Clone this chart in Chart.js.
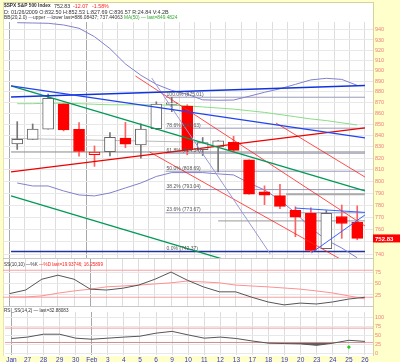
<!DOCTYPE html>
<html>
<head>
<meta charset="utf-8">
<title>$SPX daily</title>
<script src="https://cdn.jsdelivr.net/npm/chart.js@4.4.1/dist/chart.umd.min.js"></script>
<style>
  html, body { margin: 0; padding: 0; }
  body { width: 400px; height: 362px; background: #ffffcc; position: relative; overflow: hidden;
         font-family: Arial, "Liberation Sans", sans-serif; }
  #frame { position: absolute; left: 3px; top: 2px; width: 369px; height: 353px; background: #fff;
           border-top: 1px solid #d6d29a; border-right: 1px solid #d6d29a; border-left: 1px solid #e8e4b0; }
  .pane { position: absolute; left: 0; width: 400px; }
  .sep { position: absolute; left: 3px; width: 370px; height: 0; border-top: 1px solid #c8c8c8; }
  .txt { position: absolute; left: 6px; font-size: 5.4px; line-height: 6px; white-space: nowrap; color: #333; z-index: 5; }
  .red { color: #ff2020; }
  .grn { color: #33aa33; }
  .pur { color: #7777cc; }
</style>
</head>
<body>
<div id="frame"></div>
<div class="pane" style="top:0;height:258px"><canvas id="mainChart"></canvas></div>
<div class="pane" style="top:258px;height:49px"><canvas id="stochChart"></canvas></div>
<div class="pane" style="top:307px;height:55px"><canvas id="rsiChart"></canvas></div>
<div class="sep" style="top:258px"></div>
<div class="sep" style="top:306px"></div>

<div class="txt" style="top:3px;left:4px;font-size:4.8px"><b>$SPX S&amp;P 500 Index</b></div>
<div class="txt" style="top:3px;left:54px;font-size:5.3px">752.83</div>
<div class="txt red" style="top:3px;left:73px;font-size:5.3px">-12.07</div>
<div class="txt red" style="top:3px;left:92px;font-size:5.3px">-1.58%</div>
<div class="txt" style="top:9px;left:4px">D: 01/26/2009 O:832.50 H:852.53 L:827.69 C:836.57 R:24.84 V:4.2B</div>
<div class="txt" style="top:15px;left:4px;font-size:4.8px">BB(20,2.0) <span class="pur">&mdash;</span>upper <span class="pur">&mdash;</span>lower last=886.08437; 737.44063 <span class="grn">MA(50) &mdash; last=849.4824</span></div>
<div class="txt" style="top:262px;left:4px;font-size:4.6px">SS(10,10) &mdash;%K <span class="red">&mdash;%D last=19.93746; 16.25899</span></div>
<div class="txt" style="top:308px;left:4px;font-size:4.6px">RSI_SS(14,2) &mdash; last=32.88083</div>

<script>
document.addEventListener('DOMContentLoaded', () => {
  // --- Data ---
  const dateLabels = ['Jan', '27', '28', '29', '30', 'Feb', '3', '4', '5', '6', '9', '10', '11', '12', '13', '17', '18', '19', '20', '23', '24', '25', '26'];
  const monthStarts = [0, 5];

  const opens  = [832.50, 836.57, 845.73, 868.89, 845.69, 823.09, 825.69, 837.77, 831.75, 846.09, 868.24, 866.87, 827.41, 829.91, 833.95, 818.61, 791.06, 787.91, 775.87, 773.25, 744.69, 770.64, 765.76];
  const highs  = [852.53, 850.45, 877.86, 868.89, 851.66, 830.78, 842.60, 851.85, 850.55, 870.75, 875.01, 868.05, 838.22, 835.48, 839.43, 818.61, 796.17, 797.58, 778.69, 777.85, 775.49, 780.12, 779.42];
  const lows   = [827.69, 836.57, 845.73, 844.15, 821.67, 812.87, 821.98, 829.18, 819.91, 845.42, 861.65, 822.99, 822.30, 808.06, 825.21, 789.17, 780.43, 777.03, 754.25, 742.37, 744.69, 752.89, 751.75];
  const closes = [836.57, 845.71, 874.09, 845.14, 825.88, 825.44, 838.51, 832.23, 845.85, 868.60, 869.89, 827.16, 833.74, 835.19, 826.84, 789.17, 788.42, 778.94, 770.05, 743.33, 773.14, 764.90, 752.83];
  const closeBefore = 831.95;

  const bbUpper = [947.3, 947.0, 946.7, 945.0, 941.7, 933.3, 921.5, 906.6, 895.7, 887.1, 881.4, 877.8, 872.6, 872.2, 872.4, 875.9, 879.6, 882.9, 887.1, 891.3, 892.8, 891.8, 886.08];
  const bbLower = [798.6, 796.1, 796.1, 791.9, 788.5, 787.7, 790.2, 794.4, 798.6, 804.2, 807.5, 807.5, 807.5, 806.4, 805.5, 798.6, 792.7, 784.3, 773.5, 761.3, 751.6, 745.2, 737.44];
  const ma50    = [869.0, 869.0, 869.5, 869.5, 869.0, 868.5, 868.0, 868.0, 868.0, 868.0, 867.5, 867.0, 866.0, 865.0, 864.0, 862.5, 861.0, 859.0, 857.0, 855.0, 853.5, 851.5, 849.5];

  const stochK = [28, 36, 60, 69, 60, 38, 36, 40, 47, 60, 76, 58, 43, 32, 32, 20, 9.5, 3, 7, 5, 9.5, 16, 19.94];
  const stochD = [20.5, 20.5, 23, 29, 34, 38, 43, 45, 47, 49.5, 52, 56, 54, 52, 47, 45, 43, 40.5, 38, 34, 29.5, 23, 16.26];
  const rsiVals = [41, 45, 53, 53, 42, 39, 42, 45, 47.5, 56, 61, 51, 42, 45, 41, 34, 28, 27, 26, 22, 28, 36, 32.9];

  const fibNames  = ['100.0%', '78.6%', '61.8%', '50.0%', '38.2%', '23.6%', '0.0%'];
  const fibLevels = [875.01, 846.63, 824.34, 808.69, 793.04, 773.67, 742.37];
  const fibStart = 9.6;

  // hand drawn trend lines: [index, price] pairs
  const blueFalling = [[-0.4, 885.6], [22.5, 837.9]];
  const blueFlat    = [[-0.4, 875.2], [22.5, 886.0]];
  const greenUpper  = [[-0.4, 885.6], [22.5, 791.9]];
  const greenLower  = [[-0.4, 787.7], [22.5, 703.9]];
  const redRising   = [[-0.4, 808.1], [22.5, 846.9]];
  const redChannelA = [[7.65, 895.0], [22.5, 762.9]];
  const redChannelB = [[8.57, 825.4], [21.26, 734.1]];
  const redChannelC = [[16.74, 851.3], [22.5, 803.7]];
  const purpleSteep = [[8.70, 893.1], [16.37, 740.5]];
  const blueShortA  = [[19.03, 741.3], [22.5, 771.9]];
  const blueShortB  = [[17.98, 777.6], [22.5, 774.0]];
  const grayLevelA  = [[17.4, 789.17], [22.5, 789.17]];
  const grayLevelB  = [[13.0, 767.0], [22.5, 767.0]];
  const grayLevelC  = [[-0.4, 825.44], [22.5, 825.44]];
  const grayLevelD  = [[-0.4, 837.5], [12.0, 834.0]];
  const navySupport = [[-0.4, 742.37], [22.5, 742.37]];

  const priceTicks = [740, 750, 760, 770, 780, 790, 800, 810, 820, 830, 840, 850, 860, 870, 880, 890, 900, 910, 920, 930, 940];
  const stochTicks = [25, 50, 75];
  const rsiTicks = [0, 25, 50, 75, 100];

  // --- Config ---
  const FONT = 'Arial, "Liberation Sans", sans-serif';
  const X_MIN = -0.4, X_MAX = 22.5;
  const COLORS = {
    up: '#666666', down: '#ff0000', axis: '#f08080', dates: '#3333cc',
    grid: '#e8e8e8', month: '#a8a8a8', bb: '#8080cc', ma: '#88dd88',
    fib: '#9999bb', pink: '#f4a0a0'
  };

  const pts = (arr) => arr.map((v, i) => ({ x: i, y: v }));
  const seg = (pair) => pair.map(([x, y]) => ({ x, y }));

  const isRed = closes.map((c, i) => c < (i === 0 ? closeBefore : closes[i - 1]));
  const isFilled = closes.map((c, i) => c < opens[i]);

  const xScale = (showDates) => ({
    type: 'linear', min: X_MIN, max: X_MAX,
    afterBuildTicks: (s) => { s.ticks = dateLabels.map((_, i) => ({ value: i })); },
    afterFit: (s) => { s.height = showDates ? 7 : 0; s.paddingLeft = 0; s.paddingRight = 0; },
    grid: {
      drawTicks: false,
      color: (ctx) => monthStarts.includes(ctx.tick && ctx.tick.value) ? COLORS.month : '#dddddd'
    },
    border: { display: false },
    ticks: {
      display: showDates, autoSkip: false, maxRotation: 0, padding: 1,
      color: COLORS.dates, font: { family: FONT, size: 6.5 },
      callback: (v) => dateLabels[v] ?? ''
    }
  });

  const yScale = (extra, ticks) => Object.assign({
    position: 'right',
    afterBuildTicks: (s) => { s.ticks = ticks.map(v => ({ value: v })); },
    afterFit: (s) => { s.width = 27; s.paddingTop = 0; s.paddingBottom = 0; },
    grid: { drawTicks: false, color: COLORS.grid },
    border: { display: false },
    ticks: { padding: 2, color: COLORS.axis, font: { family: FONT, size: 5.5 }, callback: (v) => String(v) }
  }, extra);

  const baseOptions = (y, showDates, top) => ({
    responsive: true,
    maintainAspectRatio: false,
    animation: false,
    events: [],
    layout: { padding: { left: 3, right: 0, top: top, bottom: 0 } },
    plugins: { legend: { display: false }, tooltip: { enabled: false } },
    scales: { x: xScale(showDates), y: y }
  });

  const lineSet = (data, color, width, order, extra) => Object.assign({
    type: 'line', data, borderColor: color, borderWidth: width,
    pointRadius: 0, tension: 0, fill: false, order
  }, extra || {});

  // --- Main price pane ---
  const fibLabelPlugin = {
    id: 'fibLabels',
    afterDatasetsDraw(chart) {
      const { ctx, scales: { x, y } } = chart;
      ctx.save();
      ctx.font = '5px ' + FONT;
      ctx.fillStyle = '#555';
      ctx.textBaseline = 'bottom';
      fibLevels.forEach((lvl, i) => {
        ctx.fillText(`${fibNames[i]} (${lvl.toFixed(2)})`, x.getPixelForValue(fibStart) + 1, y.getPixelForValue(lvl) - 0.5);
      });
      ctx.restore();
    }
  };

  const lastPricePlugin = {
    id: 'lastPrice',
    afterDraw(chart) {
      const { ctx, chartArea, scales: { y } } = chart;
      const last = closes[closes.length - 1];
      const py = y.getPixelForValue(last);
      ctx.save();
      ctx.fillStyle = '#ff0000';
      ctx.fillRect(chartArea.right, py - 4, 27, 8);
      ctx.fillStyle = '#ffffff';
      ctx.font = 'bold 6px ' + FONT;
      ctx.textBaseline = 'middle';
      ctx.fillText(last.toFixed(2), chartArea.right + 2, py + 0.5);
      ctx.restore();
    }
  };

  const mainDatasets = [
    ...fibLevels.map(lvl => lineSet([{ x: fibStart, y: lvl }, { x: X_MAX, y: lvl }], COLORS.fib, 1, 20)),
    lineSet(seg(navySupport), '#223399', 1.5, 19),
    lineSet(seg(grayLevelA), '#aaaaaa', 2, 19),
    lineSet(seg(grayLevelB), '#999999', 1, 19),
    lineSet(seg(grayLevelC), '#888888', 1, 19),
    lineSet(seg(grayLevelD), '#bbbbbb', 1, 19),
    lineSet(pts(ma50), COLORS.ma, 1, 15),
    lineSet(pts(bbUpper), COLORS.bb, 1, 14),
    lineSet(pts(bbLower), COLORS.bb, 1, 14),
    {
      type: 'bar', order: 6, grouped: false, barThickness: 1,
      data: lows.map((l, i) => ({ x: i, y: [l, highs[i]] })),
      backgroundColor: isRed.map(r => r ? '#ff6060' : '#777777')
    },
    {
      type: 'bar', order: 5, grouped: false, barThickness: 11, borderSkipped: false, borderWidth: 1,
      data: opens.map((o, i) => ({ x: i, y: [o, closes[i]] })),
      backgroundColor: isFilled.map((f, i) => f ? (isRed[i] ? COLORS.down : '#000') : '#ffffff'),
      borderColor: isRed.map(r => r ? COLORS.down : COLORS.up)
    },
    lineSet(seg(purpleSteep), '#9a9ad8', 1, 3),
    lineSet(seg(greenUpper), '#009955', 1.3, 3),
    lineSet(seg(greenLower), '#009955', 1.3, 3),
    lineSet(seg(redRising), '#ee0000', 1.2, 3),
    lineSet(seg(redChannelA), '#ff2020', 0.8, 3),
    lineSet(seg(redChannelB), '#ff2020', 0.8, 3),
    lineSet(seg(redChannelC), '#ff2020', 0.8, 3),
    lineSet(seg(blueFalling), '#2244ee', 1.3, 2),
    lineSet(seg(blueFlat), '#1133dd', 1.5, 2),
    lineSet(seg(blueShortA), '#3366ff', 1, 2),
    lineSet(seg(blueShortB), '#3366ff', 1, 2)
  ];

  new Chart(document.getElementById('mainChart'), {
    type: 'bar',
    data: { datasets: mainDatasets },
    options: baseOptions(yScale({ type: 'logarithmic', min: 737.3, max: 948 }, priceTicks), false, 22),
    plugins: [fibLabelPlugin, lastPricePlugin]
  });

  // --- Slow stochastic pane ---
  new Chart(document.getElementById('stochChart'), {
    type: 'line',
    data: {
      datasets: [
        lineSet([{ x: X_MIN, y: 80 }, { x: X_MAX, y: 80 }], COLORS.pink, 1, 5),
        lineSet([{ x: X_MIN, y: 20 }, { x: X_MAX, y: 20 }], COLORS.pink, 1, 5),
        lineSet(pts(stochD), '#ff9090', 1, 2),
        lineSet(pts(stochK), '#555555', 1, 1)
      ]
    },
    options: baseOptions(yScale({ type: 'linear', min: -1.7, max: 107.2 }, stochTicks), false, 0)
  });

  // --- RSI pane ---
  new Chart(document.getElementById('rsiChart'), {
    type: 'line',
    data: {
      datasets: [
        lineSet([{ x: X_MIN, y: 70 }, { x: X_MAX, y: 70 }], COLORS.pink, 1, 5),
        lineSet([{ x: X_MIN, y: 30 }, { x: X_MAX, y: 30 }], COLORS.pink, 1, 5),
        lineSet(pts(rsiVals), '#555555', 1, 1, {
          fill: { target: { value: 30 }, above: 'rgba(0,0,0,0)', below: 'rgba(70,70,70,0.85)' }
        }),
        lineSet([{ x: 21, y: 17 }], '#22cc22', 1, 0, { pointRadius: 1.2, pointBackgroundColor: '#22cc22', showLine: false })
      ]
    },
    options: baseOptions(yScale({ type: 'linear', min: -5, max: 115 }, rsiTicks), true, 0)
  });
});
</script>
</body>
</html>
